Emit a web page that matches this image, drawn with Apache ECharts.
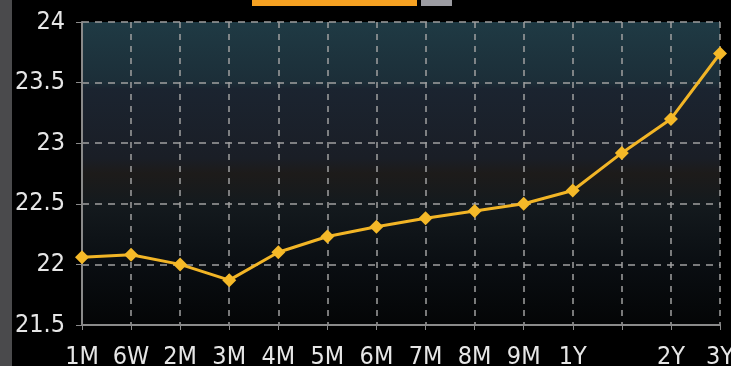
<!DOCTYPE html>
<html>
<head>
<meta charset="utf-8">
<script src="https://cdn.jsdelivr.net/npm/echarts@6/dist/echarts.min.js"></script>
<style>
  html, body { margin: 0; padding: 0; background: #000; }
  #chart { width: 731px; height: 366px; }
</style>
</head>
<body>
<div id="chart"></div>
<script>
// tenors along the curve; the 18M point has no label
const tenors = ['1M', '6W', '2M', '3M', '4M', '5M', '6M', '7M', '8M', '9M', '1Y', '', '2Y', '3Y'];
const vols = [22.06, 22.08, 22.0, 21.87, 22.1, 22.23, 22.31, 22.38, 22.44, 22.5, 22.61, 22.92, 23.2, 23.74];
const yTicks = [21.5, 22, 22.5, 23, 23.5, 24];

const labelFont = {
  color: '#e6e6e6',
  fontSize: 25,
  fontFamily: 'DejaVu Sans Condensed, DejaVu Sans, sans-serif',
};

const chart = echarts.init(document.getElementById('chart'));

const plotBg = new echarts.graphic.LinearGradient(0, 0, 0, 1, [
  { offset: 0, color: '#1f3a44' },
  { offset: 0.2, color: '#1c2e38' },
  { offset: 0.22, color: '#1b2430' },
  { offset: 0.45, color: '#1a1e26' },
  { offset: 0.5, color: '#1d1b1a' },
  { offset: 0.6, color: '#141a1e' },
  { offset: 0.8, color: '#0a0e12' },
  { offset: 1, color: '#040506' },
]);

chart.setOption({
  backgroundColor: '#000',
  animation: false,
  grid: {
    left: 82,
    right: 11,
    top: 22,
    bottom: 41,
    show: true,
    borderWidth: 0,
    backgroundColor: plotBg,
    outerBoundsMode: 'none',
  },
  graphic: [
    // strip on the left edge and the cut-off legend boxes at the top
    { type: 'rect', left: 0, top: 0, shape: { width: 12, height: 366 }, style: { fill: '#4a4a4c' } },
    { type: 'rect', left: 252, top: 0, shape: { width: 165, height: 6 }, style: { fill: '#f5a122' } },
    { type: 'rect', left: 421, top: 0, shape: { width: 31, height: 6 }, style: { fill: '#9c9ca2' } },
  ],
  xAxis: {
    type: 'category',
    data: tenors,
    boundaryGap: false,
    axisLine: { lineStyle: { color: '#8a8a8a', width: 2 } },
    axisTick: { show: true, length: 5, lineStyle: { color: '#8a8a8a' } },
    axisLabel: { ...labelFont, margin: 20, interval: 0 },
    splitLine: {
      show: true,
      lineStyle: { color: '#a0a0a0', type: [6, 6], width: 1.5 },
    },
  },
  yAxis: {
    type: 'value',
    min: yTicks[0],
    max: yTicks[yTicks.length - 1],
    interval: 0.5,
    axisLine: { show: true, lineStyle: { color: '#8a8a8a', width: 2 } },
    axisTick: { show: true, length: 6, lineStyle: { color: '#8a8a8a' } },
    axisLabel: { ...labelFont, margin: 17 },
    splitLine: {
      show: true,
      lineStyle: { color: '#a0a0a0', type: [7, 6], width: 1.5 },
    },
  },
  series: [
    {
      type: 'line',
      data: vols,
      symbol: 'diamond',
      symbolSize: 14,
      lineStyle: { color: '#f2b526', width: 3 },
      itemStyle: { color: '#f5b928' },
    },
  ],
});
</script>
</body>
</html>
